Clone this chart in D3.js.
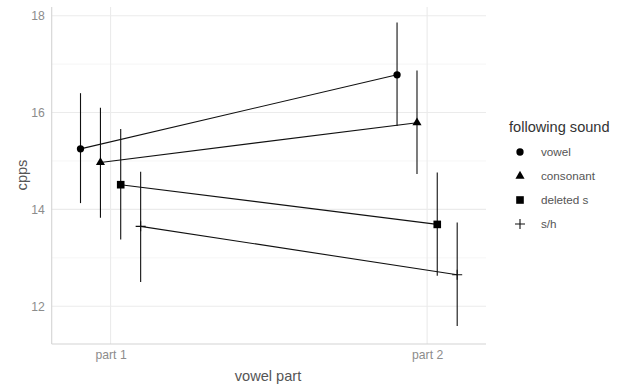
<!DOCTYPE html>
<html>
<head>
<meta charset="utf-8">
<script src="https://cdn.jsdelivr.net/npm/d3@7"></script>
<style>
  body { margin: 0; background: #fff; }
  svg { display: block; font-family: "Liberation Sans", Arial, sans-serif; }
</style>
</head>
<body>
<svg id="chart" width="628" height="385"></svg>
<script>
// ---- data ----
const parts = ["part 1", "part 2"];
const sounds = ["vowel", "consonant", "deleted s", "s/h"];
const shapes = ["circle", "triangle", "square", "plus"];
const dodge = [-0.095, -0.032, 0.032, 0.095];
const meanP1 = [15.25, 14.97, 14.51, 13.65];
const meanP2 = [16.78, 15.79, 13.69, 12.65];
const lowP1  = [14.13, 13.83, 13.38, 12.50];
const lowP2  = [15.72, 14.73, 12.63, 11.59];
const highP1 = [16.40, 16.10, 15.66, 14.78];
const highP2 = [17.86, 16.87, 14.76, 13.73];
const yTicks = [12, 14, 16, 18];
const yMinor = [13, 15, 17];

const rows = [];
sounds.forEach((s, i) => {
  rows.push({sound: s, i, part: parts[0], mean: meanP1[i], low: lowP1[i], high: highP1[i]});
  rows.push({sound: s, i, part: parts[1], mean: meanP2[i], low: lowP2[i], high: highP2[i]});
});

// ---- layout ----
const svg = d3.select("#chart");
const L = 51.7, R = 486, T = 7, B = 344;

const x = d3.scalePoint().domain(parts).range([L, R]).padding(0.186);
const step = x.step();
const y = d3.scaleLinear().domain([11.22, 18.18]).range([B, T]);
const px = d => x(d.part) + dodge[d.i] * step;

// grid
const grid = svg.append("g");
grid.selectAll(".ymin").data(yMinor).join("line")
  .attr("x1", L).attr("x2", R).attr("y1", d => y(d)).attr("y2", d => y(d))
  .attr("stroke", "#f0f0f0").attr("stroke-width", 0.6);
grid.selectAll(".ymaj").data(yTicks).join("line")
  .attr("x1", L).attr("x2", R).attr("y1", d => y(d)).attr("y2", d => y(d))
  .attr("stroke", "#ebebeb").attr("stroke-width", 1.1);
grid.selectAll(".xmaj").data(parts).join("line")
  .attr("x1", d => x(d)).attr("x2", d => x(d)).attr("y1", T).attr("y2", B)
  .attr("stroke", "#ebebeb").attr("stroke-width", 1.1);

// axis lines
svg.append("line").attr("x1", L).attr("x2", L).attr("y1", T).attr("y2", B)
  .attr("stroke", "#d4d4d4").attr("stroke-width", 1.1);
svg.append("line").attr("x1", L).attr("x2", R).attr("y1", B).attr("y2", B)
  .attr("stroke", "#d4d4d4").attr("stroke-width", 1.1);

// axes text via d3 axes
const yAxis = svg.append("g").attr("transform", `translate(${L},0)`)
  .call(d3.axisLeft(y).tickValues(yTicks).tickFormat(d3.format("d")).tickSize(0).tickPadding(7));
const xAxis = svg.append("g").attr("transform", `translate(0,${B})`)
  .call(d3.axisBottom(x).tickSize(0).tickPadding(6));
[yAxis, xAxis].forEach(a => {
  a.select(".domain").remove();
  a.selectAll("text").attr("fill", "#8c8c8c").attr("font-size", "12.2px")
    .style("font-family", '"Liberation Sans", Arial, sans-serif');
});

// axis titles
svg.append("text").attr("x", 268).attr("y", 381).attr("text-anchor", "middle")
  .attr("font-size", "14.6px").attr("fill", "#555").text("vowel part");
svg.append("text").attr("transform", "translate(27,175) rotate(-90)")
  .attr("text-anchor", "middle").attr("font-size", "14.6px").attr("fill", "#555").text("cpps");

// lines connecting dodged means
const line = d3.line().x(d => px(d)).y(d => y(d.mean));
sounds.forEach((s, i) => {
  svg.append("path").datum(rows.filter(r => r.i === i))
    .attr("d", line).attr("fill", "none").attr("stroke", "#111").attr("stroke-width", 1.1);
});

// error bars
svg.selectAll(".err").data(rows).join("line")
  .attr("x1", px).attr("x2", px)
  .attr("y1", d => y(d.low)).attr("y2", d => y(d.high))
  .attr("stroke", "#111").attr("stroke-width", 1.1);

// points
const sym = {
  circle: d3.symbol(d3.symbolCircle, 42),
  triangle: d3.symbol(d3.symbolTriangle, 36),
  square: d3.symbol(d3.symbolSquare, 58),
};
function drawShape(g, shape) {
  if (shape === "plus") {
    g.append("path").attr("d", "M-5,0H5M0,-5V5").attr("stroke", "#111")
      .attr("stroke-width", 1.1).attr("fill", "none");
  } else {
    g.append("path").attr("d", sym[shape]()).attr("fill", "#000");
  }
}
rows.forEach(d => {
  const g = svg.append("g").attr("transform", `translate(${px(d)},${y(d.mean)})`);
  drawShape(g, shapes[d.i]);
});

// legend
const lg = svg.append("g").attr("transform", "translate(509,0)");
lg.append("text").attr("x", 0).attr("y", 132).attr("font-size", "14.6px")
  .attr("fill", "#333").text("following sound");
sounds.forEach((s, i) => {
  const cy = 152 + i * 24;
  const g = lg.append("g").attr("transform", `translate(11,${cy})`);
  drawShape(g, shapes[i]);
  lg.append("text").attr("x", 32).attr("y", cy + 4).attr("font-size", "11.7px")
    .attr("fill", "#555").text(s);
});
</script>
</body>
</html>
